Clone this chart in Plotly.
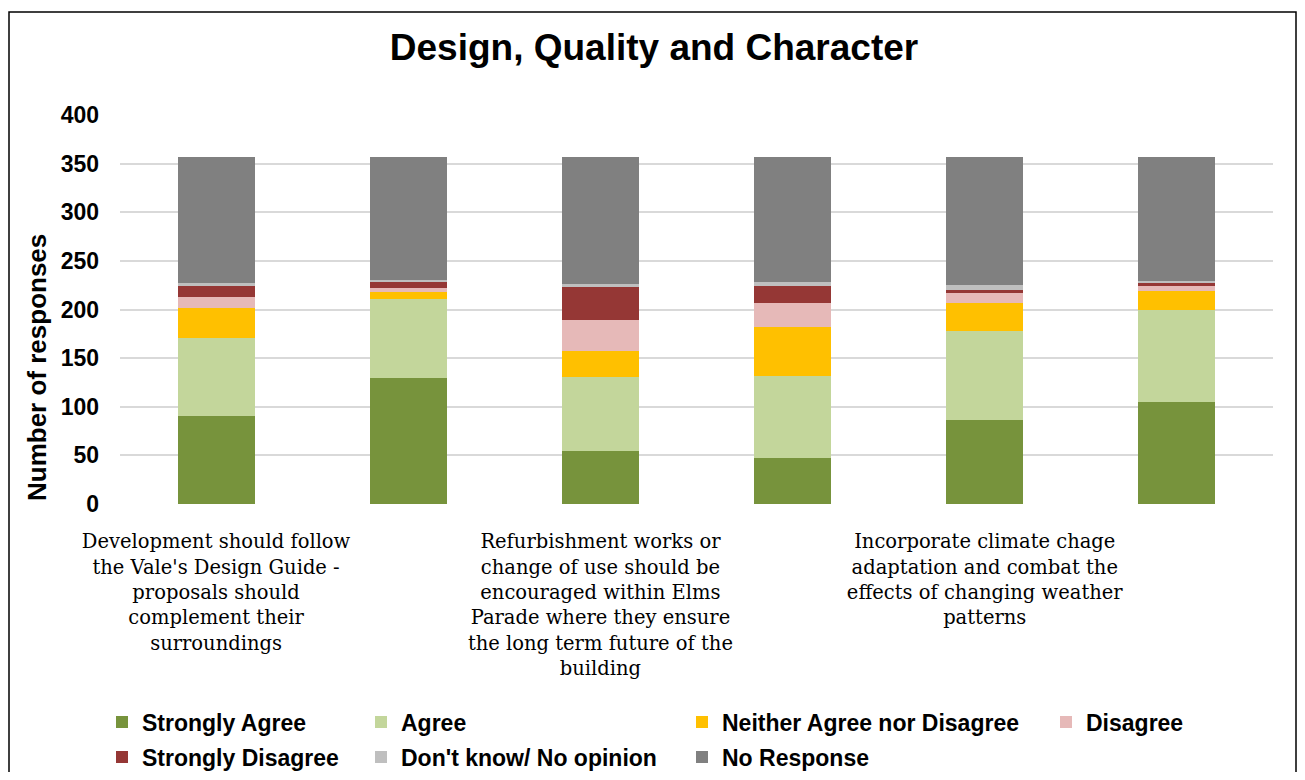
import plotly.graph_objects as go

# ---- data ----
categories = [
    "Development should follow the Vale's Design Guide - proposals should complement their surroundings",
    "Statement 2",
    "Refurbishment works or change of use should be encouraged within Elms Parade where they ensure the long term future of the building",
    "Statement 4",
    "Incorporate climate chage adaptation and combat the effects of changing weather patterns",
    "Statement 6",
]
tick_categories = [categories[0], categories[2], categories[4]]
tick_labels = [
    "Development should follow<br>the Vale's Design Guide -<br>proposals should<br>complement their<br>surroundings",
    "Refurbishment works or<br>change of use should be<br>encouraged within Elms<br>Parade where they ensure<br>the long term future of the<br>building",
    "Incorporate climate chage<br>adaptation and combat the<br>effects of changing weather<br>patterns",
]

series_names = ["Strongly Agree", "Agree", "Neither Agree nor Disagree", "Disagree",
                "Strongly Disagree", "Don't know/ No opinion", "No Response"]
strongly_agree = [90, 130, 54, 47, 86, 105]
agree = [81, 81, 77, 85, 92, 94]
neither = [31, 7, 26, 50, 29, 20]
disagree = [11, 4, 32, 25, 10, 5]
strongly_disagree = [11, 7, 35, 17, 3, 4]
dont_know = [3, 1, 2, 4, 5, 1]
no_response = [130, 127, 131, 129, 132, 128]
series_values = [strongly_agree, agree, neither, disagree, strongly_disagree, dont_know, no_response]
series_colors = ["#77933C", "#C3D69B", "#FFC000", "#E6B9B8", "#953735", "#BFBFBF", "#808080"]

y_ticks = [0, 50, 100, 150, 200, 250, 300, 350, 400]

# ---- layout geometry (page has an 8px body margin on every side) ----
OFF = 8
W, H = 1305 - 2 * OFF, 780 - 2 * OFF
PL, PR, PT, PB = 120, 1273, 115, 504          # plot area in screen pixels
ML, MT = PL - OFF, PT - OFF
MR, MB = W - (PR - OFF), H - (PB - OFF)
PW = PR - PL
PH = PB - PT

def px_x(p):
    return (p - PL) / PW

def px_y(p):
    return (PB - p) / PH

SANS = "Liberation Sans, Arial, sans-serif"

# legend placement (text-left pixel, row-centre pixel) in screen pixels
legend_pos = [(142, 722), (401, 722), (722, 722), (1086, 722),
              (142, 757), (401, 757), (722, 757)]

fig = go.Figure()
legend_ids = ["legend"] + [f"legend{i}" for i in range(2, 8)]
for name, vals, col, lid in zip(series_names, series_values, series_colors, legend_ids):
    fig.add_trace(go.Bar(
        x=categories, y=vals, name=name,
        marker=dict(color=col, line=dict(width=0)),
        legend=lid,
    ))

layout_legends = {}
for lid, (tx, ty) in zip(legend_ids, legend_pos):
    layout_legends[lid] = dict(
        x=px_x(tx - 40), y=px_y(ty), xanchor="left", yanchor="middle",
        orientation="v", bgcolor="rgba(0,0,0,0)", borderwidth=0,
        font=dict(family=SANS, size=23, color="#000000", weight="bold"),
    )

fig.update_layout(
    width=W, height=H,
    margin=dict(l=ML, r=MR, t=MT, b=MB, pad=0, autoexpand=False),
    paper_bgcolor="#FFFFFF", plot_bgcolor="#FFFFFF",
    barmode="stack", bargap=0.6,
    title=dict(
        text="<b>Design, Quality and Character</b>",
        x=(654 - OFF) / W, xref="container", y=1 - (47 - OFF) / H, yref="container",
        xanchor="center", yanchor="middle",
        font=dict(family=SANS, size=37, color="#000000"),
    ),
    xaxis=dict(
        tickmode="array", tickvals=tick_categories, ticktext=tick_labels,
        ticks="outside", ticklen=20, tickcolor="rgba(0,0,0,0)",
        tickfont=dict(family="DejaVu Serif, serif", size=19.5, color="#000000"),
        showgrid=False, showline=False, zeroline=False, tickangle=0, automargin=False,
    ),
    yaxis=dict(
        range=[0, 400], tickvals=y_ticks,
        ticktext=[f"<b>{v}</b>" for v in y_ticks],
        tickfont=dict(family=SANS, size=23, color="#000000"),
        showgrid=True, gridcolor="#D9D9D9", gridwidth=1.5,
        zeroline=False, showline=False, ticks="", ticklabelstandoff=20, automargin=False,
    ),
    showlegend=True,
    **layout_legends,
)

fig.add_annotation(
    text="<b>Number of responses</b>", textangle=-90,
    x=px_x(37), y=px_y(368), xref="paper", yref="paper",
    xanchor="center", yanchor="middle", showarrow=False,
    font=dict(family=SANS, size=26, color="#000000"),
)

# outer chart border
fig.add_shape(
    type="rect", xref="paper", yref="paper",
    x0=px_x(9), x1=px_x(1296), y0=px_y(800), y1=px_y(12),
    line=dict(color="#000000", width=1.5), fillcolor="rgba(0,0,0,0)", layer="below",
)

fig.write_html("out.html")
